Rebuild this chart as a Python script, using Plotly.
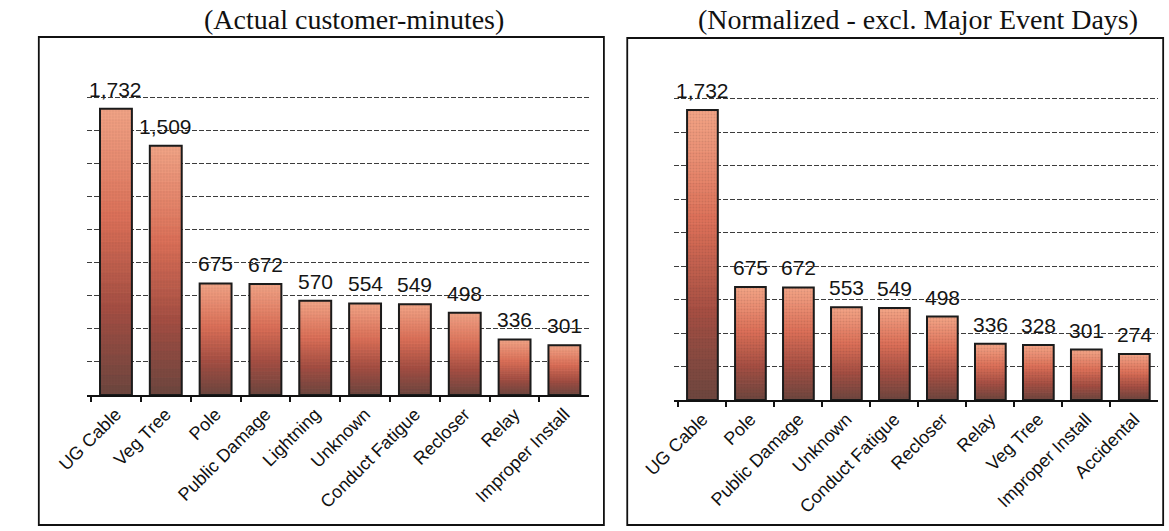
import plotly.graph_objects as go

# Outage causes ranked by customer-minutes
actual_causes = ["UG Cable", "Veg Tree", "Pole", "Public Damage", "Lightning",
                 "Unknown", "Conduct Fatigue", "Recloser", "Relay", "Improper Install"]
actual_minutes = [1732, 1509, 675, 672, 570, 554, 549, 498, 336, 301]

normalized_causes = ["UG Cable", "Pole", "Public Damage", "Unknown", "Conduct Fatigue",
                     "Recloser", "Relay", "Veg Tree", "Improper Install", "Accidental"]
normalized_minutes = [1732, 675, 672, 553, 549, 498, 336, 328, 301, 274]

actual_title = "(Actual customer-minutes)"
normalized_title = "(Normalized - excl. Major Event Days)"

W, H = 1169, 531
N_BANDS = 28
# colour stops for the vertical bar gradient (bottom -> top)
STOPS = [(0.0, (108, 70, 62)), (0.3, (165, 78, 66)), (0.62, (222, 112, 88)), (1.0, (244, 165, 135))]


def grad_color(t):
    for (t0, c0), (t1, c1) in zip(STOPS[:-1], STOPS[1:]):
        if t0 <= t <= t1:
            f = (t - t0) / (t1 - t0)
            return "rgb(%d,%d,%d)" % tuple(round(a + (b - a) * f) for a, b in zip(c0, c1))
    return "rgb(%d,%d,%d)" % STOPS[-1][1]


def px(x):
    return x / W


def py(y):
    return 1 - y / H


fig = go.Figure()


def add_panel(cats, vals, xa, ya):
    # gradient bands, each a slice of its own bar
    for i in range(N_BANDS):
        col = grad_color((i + 0.5) / N_BANDS)
        fig.add_trace(go.Bar(
            x=cats, y=[v / N_BANDS for v in vals], base=[v * i / N_BANDS for v in vals],
            marker=dict(color=col, line=dict(color=col, width=1)),
            xaxis=xa, yaxis=ya, showlegend=False, hoverinfo="skip"))
    # bar outline and grain on top
    fig.add_trace(go.Bar(
        x=cats, y=vals,
        marker=dict(color="rgba(0,0,0,0)", line=dict(color="#1b1b1b", width=2),
                    pattern=dict(shape=".", fgcolor="rgba(70,45,40,0.3)", size=3,
                                 solidity=0.3, fillmode="overlay")),
        xaxis=xa, yaxis=ya, showlegend=False))
    # value labels
    for c, v in zip(cats, vals):
        fig.add_annotation(x=c, y=v, xref=xa, yref=ya, text=f"{v:,}", showarrow=False,
                           yanchor="bottom", yshift=6,
                           font=dict(family="Liberation Sans, Arial", size=21, color="#151515"))


add_panel(actual_causes, actual_minutes, "x", "y")
add_panel(normalized_causes, normalized_minutes, "x2", "y2")

xcommon = dict(showline=True, linecolor="#111", linewidth=1.5, ticks="outside",
               tickson="boundaries", ticklen=5, tickwidth=1.5, tickcolor="#111",
               tickangle=-45, showgrid=False,
               tickfont=dict(family="Liberation Sans, Arial", size=18, color="#111"))
ycommon = dict(range=[0, 2000], dtick=200, showticklabels=False, showgrid=True,
               gridcolor="#3c3c3c", gridwidth=1, griddash="5px,2px", zeroline=False,
               showline=False, ticks="")

fig.update_layout(
    width=W, height=H, margin=dict(l=0, r=0, t=0, b=0),
    paper_bgcolor="white", plot_bgcolor="white",
    barmode="overlay", bargap=0.36,
    xaxis=dict(domain=[px(57), px(573)], anchor="y", **xcommon),
    yaxis=dict(domain=[py(395), py(64.5)], anchor="x", **ycommon),
    xaxis2=dict(domain=[px(660), px(1158)], anchor="y2", **xcommon),
    yaxis2=dict(domain=[py(400), py(65)], anchor="x2", **ycommon),
)

# panel frames
fig.add_shape(type="rect", xref="paper", yref="paper",
              x0=px(7), x1=px(588), y0=py(525), y1=py(37),
              line=dict(color="#111", width=1.8))
fig.add_shape(type="rect", xref="paper", yref="paper",
              x0=px(612), x1=px(1163), y0=py(525), y1=py(38),
              line=dict(color="#111", width=1.8))

# panel titles
for txt, cx in [(actual_title, 331), (normalized_title, 911)]:
    fig.add_annotation(text=txt, xref="paper", yref="paper", x=px(cx), y=py(20),
                       xanchor="center", yanchor="middle", showarrow=False,
                       font=dict(family="Liberation Serif, Times New Roman", size=28, color="#111"))

fig.write_html("out.html")
